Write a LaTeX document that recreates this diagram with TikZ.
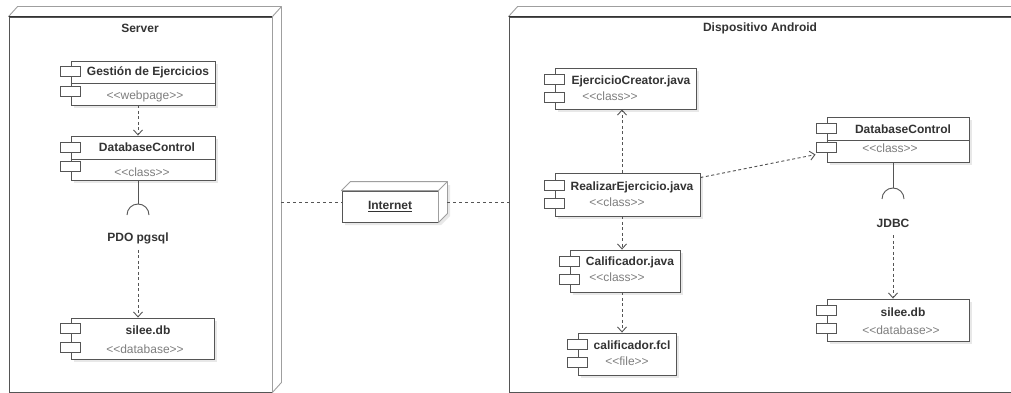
\documentclass[tikz,border=0pt]{standalone}
\usepackage{fontspec}
\setmainfont{Liberation Sans}
\usetikzlibrary{arrows.meta,calc,shadows}
\definecolor{ln}{HTML}{555555}
\definecolor{tx}{HTML}{333333}
\definecolor{st}{HTML}{7E7E7E}
\definecolor{sh}{HTML}{E8E8E8}
\tikzset{
 comp/.style={draw=ln, line width=0.9pt, fill=white, inner sep=0pt,
   drop shadow={shadow xshift=3pt, shadow yshift=-3pt, fill=sh, opacity=1}},
 tabst/.style={draw=ln, line width=0.9pt, fill=white},
 ttl/.style={font=\fontsize{12}{14}\selectfont\bfseries, text=tx, inner sep=1pt},
 ster/.style={font=\fontsize{12}{14}\selectfont, text=st, inner sep=1pt},
 dep/.style={draw=ln, line width=0.9pt, dash pattern=on 3pt off 2.5pt,
   -{Straight Barb[length=5pt,width=9pt]}},
 link/.style={draw=ln, line width=0.9pt, dash pattern=on 3pt off 3pt},
 frm/.style={draw=ln, line width=0.9pt, fill=white, inner sep=0pt},
 side/.style={draw=gray!75, line width=0.9pt, fill=white, line join=round},
 solidln/.style={draw=ln, line width=0.9pt},
}
\newcommand\mytabs[3]{%
  \draw[tabst] ($(#1.north west)+(-10,#2)$) rectangle ++(20,10);
  \draw[tabst] ($(#1.north west)+(-10,#3)$) rectangle ++(20,10);}
\newcommand\mydivider[2]{%
  \draw[solidln] ($(#1.north west)+(0,#2)$) -- ($(#1.north east)+(0,#2)$);}
\newcommand\stereo[1]{<\kern0pt<#1>\kern0pt>}
\begin{document}
\begin{tikzpicture}[x=1pt,y=-1pt]
\useasboundingbox (0,0) rectangle (1011,393);
\fill[white] (0,0) rectangle (1011,393);
\clip (0,0) rectangle (1011,393);

% ---------- Server node ----------
\node[frm, minimum width=263pt, minimum height=375pt] (srv) at (140.5,204.5) {};
\draw[side] (srv.north west) -- ++(9,-10) -- ($(srv.north east)+(9,-10)$)
  -- ($(srv.south east)+(9,-10)$) -- (srv.south east) -- (srv.north east) -- cycle;
\draw[side] (srv.north east) -- ++(9,-10);
\draw[draw=tx, line width=1.2pt] (srv.north west) -- (srv.north east);
\node[ttl] (srvlbl) at (140,28) {Server};

% ---------- Android node ----------
\node[frm, minimum width=531pt, minimum height=375pt] (and) at (774.5,204.5) {};
\draw[side] (and.north west) -- ++(9,-10) -- ($(and.north east)+(9,-10)$)
  -- ($(and.south east)+(9,-10)$) -- (and.south east) -- (and.north east) -- cycle;
\draw[draw=tx, line width=1.2pt] (and.north west) -- (and.north east);
\node[ttl] (andlbl) at (760,28) {Dispositivo Android};

% ---------- Internet node ----------
\fill[sh] (345,194) -- ++(9,-9) -- ++(96,0) -- ++(0,31) -- ++(-9,9) -- ++(-96,0) -- cycle;
\node[frm, minimum width=96pt, minimum height=31pt, ttl, draw=ln] (inet) at (390,206.5) {\underline{Internet}};
\draw[side] (inet.north west) -- ++(9,-9) -- ($(inet.north east)+(9,-9)$)
  -- ($(inet.south east)+(9,-9)$) -- (inet.south east) -- (inet.north east) -- cycle;
\draw[side] (inet.north east) -- ++(9,-9);

\coordinate (srvR) at (281,202);
\coordinate (andL) at (509,202);
\coordinate (inetR) at ([xshift=9pt]inet.east);
\draw[link] (srvR) -- (inet.west |- srvR);
\draw[link] (inetR |- srvR) -- (andL);

% ---------- Server components ----------
\node[comp, minimum width=144pt, minimum height=44pt] (gest) at (143,83) {};
\mydivider{gest}{23}
\mytabs{gest}{6}{26}
\node[ttl] (gestT) at (148,72) {Gestión de Ejercicios};
\node[ster] (gestS) at (145,96) {\stereo{webpage}};

\node[comp, minimum width=144pt, minimum height=44pt] (dbcs) at (143,158) {};
\mydivider{dbcs}{24}
\mytabs{dbcs}{7}{26}
\node[ttl] (dbcsT) at (147,147) {DatabaseControl};
\node[ster] (dbcsS) at (142,172) {\stereo{class}};

\node[comp, minimum width=143pt, minimum height=41pt] (sils) at (142.5,338.5) {};
\mytabs{sils}{6}{25}
\node[ttl] (silsT) at (148,330) {silee.db};
\node[ster] (silsS) at (145,349) {\stereo{database}};

\coordinate (colS) at (138,215);
\draw[dep] (gest.south -| colS) -- (dbcs.north -| colS);
\draw[solidln] (dbcs.south -| colS) -- ($(colS)+(0,-11)$);
\draw[solidln] ($(colS)+(-11,0)$) .. controls +(0,-6.07) and +(-6.07,0) .. ($(colS)+(0,-11)$)
  .. controls +(6.07,0) and +(0,-6.07) .. ($(colS)+(11,0)$);
\node[ttl] (pdo) at (138,238) {PDO pgsql};
\draw[dep] ([yshift=-5pt]pdo.south) -- (sils.north -| pdo.south);

% ---------- Android components ----------
\node[comp, minimum width=141pt, minimum height=41pt] (ejc) at (625.5,88.5) {};
\mytabs{ejc}{7}{25}
\node[ttl] (ejcT) at (631,81) {EjercicioCreator.java};
\node[ster] (ejcS) at (610,96) {\stereo{class}};

\node[comp, minimum width=145pt, minimum height=43pt] (real) at (627.5,194.5) {};
\mytabs{real}{8}{26}
\node[ttl] (realT) at (632,187) {RealizarEjercicio.java};
\node[ster] (realS) at (617,202) {\stereo{class}};

\node[comp, minimum width=110pt, minimum height=42pt] (calif) at (625,271) {};
\mytabs{calif}{7}{25}
\node[ttl] (califT) at (630,262) {Calificador.java};
\node[ster] (califS) at (617,277) {\stereo{class}};

\node[comp, minimum width=98pt, minimum height=42pt] (fcl) at (627,354) {};
\mytabs{fcl}{7}{25}
\node[ttl] (fclT) at (632,345) {calificador.fcl};
\node[ster] (fclS) at (627,361) {\stereo{file}};

\node[comp, minimum width=142pt, minimum height=45pt] (dbca) at (898,139.5) {};
\mydivider{dbca}{24}
\mytabs{dbca}{7}{26}
\node[ttl] (dbcaT) at (903,129) {DatabaseControl};
\node[ster] (dbcaS) at (890,148) {\stereo{class}};

\node[comp, minimum width=142pt, minimum height=42pt] (sila) at (898,320) {};
\mytabs{sila}{7}{25}
\node[ttl] (silaT) at (903,312) {silee.db};
\node[ster] (silaS) at (901,330) {\stereo{database}};

\coordinate (colA) at (622,0);
\draw[dep] (real.north -| colA) -- (ejc.south -| colA);
\draw[dep] (real.south -| colA) -- (calif.north -| colA);
\draw[dep] (calif.south -| colA) -- (fcl.north -| colA);
\coordinate (dbcaIn) at ($(dbca.north west)+(-11,38)$);
\draw[dep] ([yshift=-5pt]real.north east) -- (dbcaIn);

\coordinate (colJ) at (893,199);
\draw[solidln] (dbca.south -| colJ) -- ($(colJ)+(0,-11)$);
\draw[solidln] ($(colJ)+(-11,0)$) .. controls +(0,-6.07) and +(-6.07,0) .. ($(colJ)+(0,-11)$)
  .. controls +(6.07,0) and +(0,-6.07) .. ($(colJ)+(11,0)$);
\node[ttl] (jdbc) at (893,223) {JDBC};
\draw[dep] ([yshift=-7pt]jdbc.south) -- (sila.north -| jdbc.south);
\end{tikzpicture}
\end{document}
